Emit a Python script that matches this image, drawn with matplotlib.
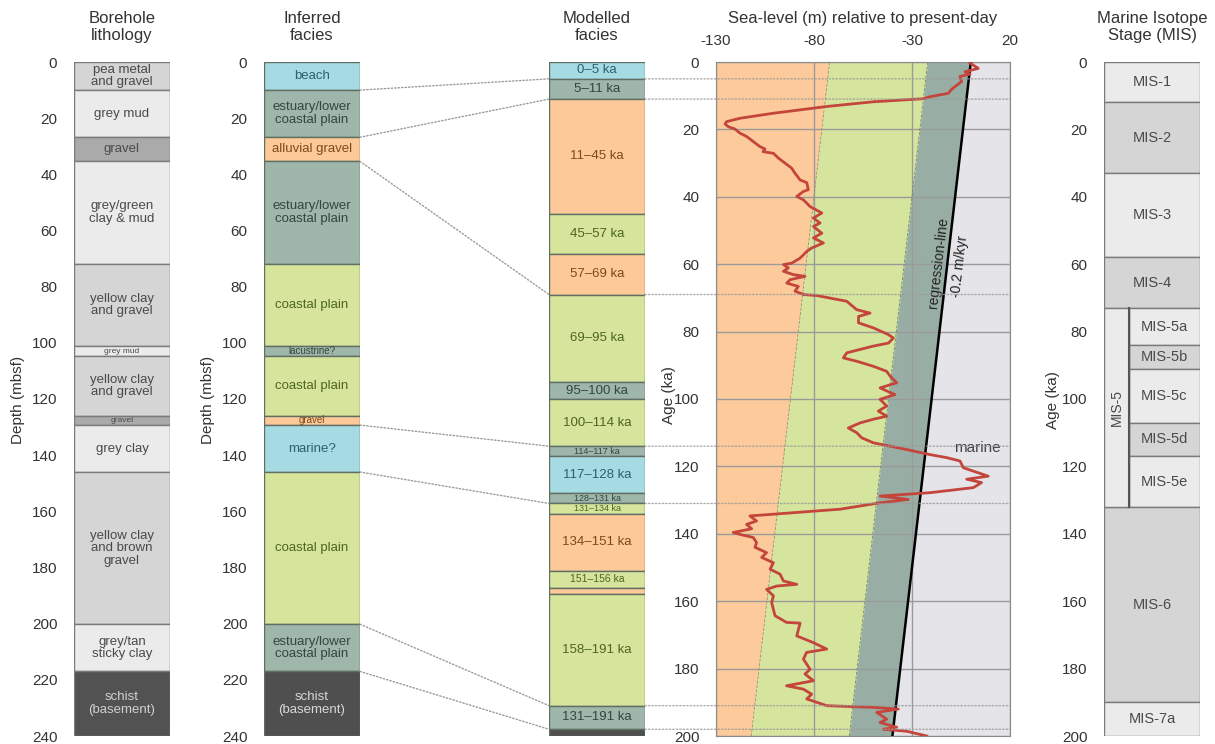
import numpy as np
import matplotlib
matplotlib.use('Agg')
import matplotlib.pyplot as plt
from matplotlib.patches import Rectangle, ConnectionPatch

plt.rcParams['font.family'] = ['Liberation Sans', 'DejaVu Sans']
plt.rcParams['axes.unicode_minus'] = False

# Borehole layers (depth, mbsf) - shared by lithology and inferred facies logs
layer_tops = [0, 10, 26.8, 35.4, 71.9, 101.2, 104.8, 125.9, 129.3, 146, 200.2, 217]
layer_bots = [10, 26.8, 35.4, 71.9, 101.2, 104.8, 125.9, 129.3, 146, 200.2, 217, 240]

litho_labels = ['pea metal\nand gravel', 'grey mud', 'gravel', 'grey/green\nclay & mud',
                'yellow clay\nand gravel', 'grey mud', 'yellow clay\nand gravel', 'gravel',
                'grey clay', 'yellow clay\nand brown\ngravel', 'grey/tan\nsticky clay',
                'schist\n(basement)']
litho_shades = ['mid', 'light', 'dark', 'light', 'mid', 'light', 'mid', 'dark',
                'light', 'mid', 'light', 'base']

facies_labels = ['beach', 'estuary/lower\ncoastal plain', 'alluvial gravel',
                 'estuary/lower\ncoastal plain', 'coastal plain', 'lacustrine?',
                 'coastal plain', 'gravel', 'marine?', 'coastal plain',
                 'estuary/lower\ncoastal plain', 'schist\n(basement)']
facies_kinds = ['marine', 'estuary', 'alluvial', 'estuary', 'coastal', 'estuary',
                'coastal', 'alluvial', 'marine', 'coastal', 'estuary', 'base']

# Modelled facies (age, ka)
model_tops = [0, 5, 11, 45, 57, 69, 95, 100, 114, 117, 128, 131, 134, 151, 156, 158, 191, 198]
model_bots = [5, 11, 45, 57, 69, 95, 100, 114, 117, 128, 131, 134, 151, 156, 158, 191, 198, 200]
model_labels = ['0–5 ka', '5–11 ka', '11–45 ka', '45–57 ka', '57–69 ka', '69–95 ka',
                '95–100 ka', '100–114 ka', '114–117 ka', '117–128 ka', '128–131 ka',
                '131–134 ka', '134–151 ka', '151–156 ka', '', '158–191 ka', '131–191 ka', '']
model_kinds = ['marine', 'estuary', 'alluvial', 'coastal', 'alluvial', 'coastal',
               'estuary', 'coastal', 'estuary', 'marine', 'estuary', 'coastal',
               'alluvial', 'coastal', 'alluvial', 'coastal', 'estuary', 'base']

# depth -> age tie points
tie_depths = [10, 26.8, 35.4, 129.3, 146, 200.2, 217]
tie_ages = [5, 11, 69, 114, 131, 191, 198]

# Sea-level curve
sl_age = [0.3, 1.9, 2.9, 3.6, 4.3, 5.8, 8.1, 9.3, 10.3, 10.9, 11.8, 13.2, 15.2, 16.7,
          17.7, 18.4, 19.2, 19.9, 21.1, 22.1, 23.6, 25.1, 25.8, 26.6, 27.1, 28.5, 30.0,
          31.5, 33.0, 35.0, 35.8, 37.9, 38.4, 39.9, 40.9, 42.9, 44.8, 46.3, 47.8, 48.8,
          50.8, 52.2, 53.7, 55.2, 56.2, 58.2, 59.7, 60.1, 61.1, 62.1, 63.1, 63.6, 64.6,
          65.6, 66.6, 68.0, 69.0, 69.3, 71.0, 73.5, 74.5, 75.5, 77.4, 78.9, 80.9, 81.9,
          83.4, 84.3, 86.3, 87.8, 88.8, 90.3, 91.8, 93.2, 95.2, 96.7, 98.7, 100.1, 102.1,
          103.6, 105.1, 106.0, 107.1, 108.6, 110.0, 111.5, 113.0, 115.0, 116.5, 117.4,
          118.4, 120.4, 121.4, 122.9, 123.8, 124.8, 126.3, 127.8, 128.8, 129.8, 130.8,
          132.7, 134.7, 136.2, 137.2, 138.5, 139.6, 140.3, 141.1, 142.6, 144.0, 145.6,
          147.0, 148.6, 150.5, 152.0, 154.0, 155.0, 155.5, 156.5, 158.4, 160.4, 164.3,
          166.3, 166.5, 170.3, 172.3, 174.2, 175.2, 177.2, 180.2, 181.6, 183.6, 185.1,
          186.1, 187.6, 189.0, 191.0, 191.5, 192.0, 193.0, 195.0, 196.0, 197.4, 198.0,
          198.6, 200.0]
sl_level = [-0.4, 3.8, -3.0, -0.4, -5.5, -4.7, -9.8, -11.5, -20.8, -24.2, -49.7, -73.5,
            -100.7, -117.8, -124.6, -125.4, -123.7, -120.3, -117.8, -114.4, -111.0, -107.6,
            -105.0, -106.0, -100.7, -98.2, -94.8, -91.4, -89.7, -87.1, -83.7, -82.9, -85.4,
            -88.8, -85.4, -82.0, -76.0, -80.3, -76.9, -80.3, -76.0, -80.3, -75.2, -81.2,
            -83.7, -87.1, -91.4, -95.6, -93.1, -95.6, -90.5, -84.6, -92.2, -93.9, -88.0,
            -89.7, -85.4, -78.6, -63.3, -58.2, -51.4, -57.3, -57.3, -49.7, -42.0, -39.5,
            -42.0, -49.7, -63.3, -65.0, -58.2, -49.7, -42.9, -41.2, -37.8, -46.3, -38.7,
            -46.3, -42.9, -47.2, -42.9, -49.7, -56.5, -62.5, -58.2, -55.7, -49.7, -32.7,
            -20.8, -12.3, -5.5, -3.8, 1.3, 8.9, -2.1, 5.5, 1.3, -20.8, -46.3, -31.9, -46.3,
            -66.7, -112.7, -109.3, -114.4, -111.8, -121.2, -116.9, -111.0, -109.3, -110.1,
            -104.2, -106.7, -100.7, -102.4, -97.3, -95.6, -88.8, -99.0, -104.2, -100.7,
            -101.6, -99.9, -94.0, -87.1, -88.8, -80.3, -73.5, -83.8, -85.4, -82.0, -84.6,
            -80.3, -94.0, -85.4, -81.2, -83.7, -73.5, -49.7, -37.0, -48.0, -42.9, -46.3,
            -37.8, -44.6, -32.7, -22.5]

# facies envelope boundaries at 0 ka and 200 ka
env_ages = [0, 200]
env_alluvial = [-72, -112]
env_coastal = [-22, -62]
regression = [0, -40]

# Marine isotope stages
mis_tops = [0, 12, 33, 58, 73, 84, 91, 107, 117, 132, 190]
mis_bots = [12, 33, 58, 73, 84, 91, 107, 117, 132, 190, 200]
mis_labels = ['MIS-1', 'MIS-2', 'MIS-3', 'MIS-4', 'MIS-5a', 'MIS-5b', 'MIS-5c',
              'MIS-5d', 'MIS-5e', 'MIS-6', 'MIS-7a']
mis_shades = ['light', 'mid', 'light', 'mid', 'light', 'mid', 'light', 'mid',
              'light', 'mid', 'light']

facies_fill = {'marine': '#a7dbe3', 'estuary': '#9fb6aa', 'alluvial': '#fdc998',
               'coastal': '#d6e49c', 'base': '#4f4f4f'}
facies_text = {'marine': '#2b6070', 'estuary': '#32473d', 'alluvial': '#7b4a1c',
               'coastal': '#4d6621', 'base': '#d8d8d8'}
grey_fill = {'light': '#ebebeb', 'mid': '#d5d5d5', 'dark': '#aaaaaa', 'base': '#525252'}

W, H = 1215, 744
fig = plt.figure(figsize=(W / 100, H / 100), dpi=100)


def column_axes(x0, x1):
    return fig.add_axes([x0 / W, (H - 736) / H, (x1 - x0) / W, 674 / H])


def style_column(ax, ymax, ticks=True):
    ax.set_xlim(0, 1)
    ax.set_ylim(ymax, 0)
    ax.set_xticks([])
    for s in ax.spines.values():
        s.set_visible(False)
    if ticks:
        ax.set_yticks(np.arange(0, ymax + 1, 20))
        ax.tick_params(axis='y', length=0, pad=12, labelsize=11, labelcolor='#333333')
    else:
        ax.set_yticks([])


def draw_box(ax, x0, x1, top, bot, label, fc, tc, ec, fs):
    ax.add_patch(Rectangle((x0, top), x1 - x0, bot - top, facecolor=fc,
                           edgecolor=ec, lw=1))
    if label:
        ax.text((x0 + x1) / 2, (top + bot) / 2, label, ha='center', va='center',
                fontsize=fs, color=tc, linespacing=1.05)


# Borehole lithology
ax1 = column_axes(74, 170)
style_column(ax1, 240)
for t, b, lab, sh in zip(layer_tops, layer_bots, litho_labels, litho_shades):
    tc = '#d0d0d0' if sh == 'base' else '#4a4a4a'
    draw_box(ax1, 0, 1, t, b, lab, grey_fill[sh], tc, '#7a7a7a', 9.5 if b - t > 5 else 6)

# Inferred facies
ax2 = column_axes(264, 360)
style_column(ax2, 240)
for t, b, lab, k in zip(layer_tops, layer_bots, facies_labels, facies_kinds):
    draw_box(ax2, 0, 1, t, b, lab, facies_fill[k], facies_text[k], '#5f6f63',
             9.5 if b - t > 5 else 7)

# Modelled facies
ax3 = column_axes(549, 645)
style_column(ax3, 200, ticks=False)
for t, b, lab, k in zip(model_tops, model_bots, model_labels, model_kinds):
    h = b - t
    fs = 9.5 if (h > 5 or (h == 5 and len(lab) < 10)) else (6.5 if h <= 3 else 7.5)
    draw_box(ax3, 0, 1, t, b, lab, facies_fill[k], facies_text[k], '#5f6f63', fs)

# Sea-level panel
ax4 = column_axes(716, 1010)
ax4.set_xlim(-130, 20)
ax4.set_ylim(200, 0)
ax4.fill_betweenx(env_ages, -130, env_alluvial, color='#fdcb9b', lw=0)
ax4.fill_betweenx(env_ages, env_alluvial, env_coastal, color='#d6e59d', lw=0)
ax4.fill_betweenx(env_ages, env_coastal, regression, color='#98aea4', lw=0)
ax4.fill_betweenx(env_ages, regression, 20, color='#e5e5e9', lw=0)
ax4.plot(env_alluvial, env_ages, ls='--', lw=0.6, color='#8a9a6a')
ax4.plot(env_coastal, env_ages, ls='--', lw=0.6, color='#6f8a6a')
ax4.plot(regression, env_ages, color='black', lw=1.8, zorder=3)
ax4.plot(sl_level, sl_age, color='#c4453c', lw=2, zorder=4)
ax4.set_axisbelow('line')
ax4.grid(True, color='#9a9a9a', lw=1)
ax4.xaxis.tick_top()
ax4.set_xticks([-130, -80, -30, 20])
ax4.set_yticks(np.arange(0, 201, 20))
ax4.tick_params(length=0, labelsize=11, labelcolor='#333333')
ax4.tick_params(axis='x', pad=10)
ax4.tick_params(axis='y', pad=12)
for s in ax4.spines.values():
    s.set_color('#8a8a8a')

fig.canvas.draw()
p0 = ax4.transData.transform((regression[0], env_ages[0]))
p1 = ax4.transData.transform((regression[1], env_ages[1]))
angle = np.degrees(np.arctan2(p0[1] - p1[1], p0[0] - p1[0]))
ax4.text(-16.7, 59.5, 'regression-line', rotation=angle, rotation_mode='anchor',
         ha='center', va='center', fontsize=10, color='#222222')
ax4.text(-5.5, 60.7, '-0.2 m/kyr', rotation=angle, rotation_mode='anchor',
         ha='center', va='center', fontsize=10, color='#222222')
ax4.text(3.2, 114.4, 'marine', ha='center', va='center', fontsize=11, color='#444444')

# Marine isotope stages
ax5 = column_axes(1104, 1200)
style_column(ax5, 200)
sub_x = 0.26
for t, b, lab, sh in zip(mis_tops, mis_bots, mis_labels, mis_shades):
    x0 = sub_x if lab.startswith('MIS-5') else 0
    draw_box(ax5, x0, 1, t, b, lab, grey_fill[sh], '#4a4a4a', '#7a7a7a', 10.5)
mis5 = [t for t, lab in zip(mis_tops, mis_labels) if lab.startswith('MIS-5')]
mis5_bot = max(b for b, lab in zip(mis_bots, mis_labels) if lab.startswith('MIS-5'))
ax5.add_patch(Rectangle((0, min(mis5)), sub_x, mis5_bot - min(mis5),
                        facecolor=grey_fill['light'], edgecolor='#7a7a7a', lw=1))
ax5.plot([sub_x, sub_x], [min(mis5), mis5_bot], color='#555555', lw=1.5)
ax5.text(sub_x / 2, (min(mis5) + mis5_bot) / 2, 'MIS-5', rotation=90, ha='center',
         va='center', fontsize=10, color='#4a4a4a')

# tie lines between depth and age columns
for d, a in zip(tie_depths, tie_ages):
    fig.add_artist(ConnectionPatch(xyA=(1, d), coordsA=ax2.transData, xyB=(0, a),
                                   coordsB=ax3.transData, color='#9a9a9a', lw=1,
                                   ls=(0, (1, 1.5))))
    fig.add_artist(ConnectionPatch(xyA=(1, a), coordsA=ax3.transData, xyB=(20, a),
                                   coordsB=ax4.transData, color='#9a9a9a', lw=1,
                                   ls=(0, (1, 1.5)), alpha=0.8))

# headings and axis labels
title_kw = dict(ha='center', va='center', fontsize=12, color='#333333', linespacing=1.1)
fig.text(122 / W, 1 - 27 / H, 'Borehole\nlithology', **title_kw)
fig.text(312 / W, 1 - 27 / H, 'Inferred\nfacies', **title_kw)
fig.text(597 / W, 1 - 27 / H, 'Modelled\nfacies', **title_kw)
fig.text(863 / W, 1 - 18 / H, 'Sea-level (m) relative to present-day', **title_kw)
fig.text(1152 / W, 1 - 27 / H, 'Marine Isotope\nStage (MIS)', **title_kw)

ylab_kw = dict(rotation=90, ha='center', va='center', fontsize=11, color='#333333')
fig.text(18 / W, 1 - 400 / H, 'Depth (mbsf)', **ylab_kw)
fig.text(208 / W, 1 - 400 / H, 'Depth (mbsf)', **ylab_kw)
fig.text(669 / W, 1 - 395 / H, 'Age (ka)', **ylab_kw)
fig.text(1053 / W, 1 - 400 / H, 'Age (ka)', **ylab_kw)

fig.savefig('out.png', dpi=100)
